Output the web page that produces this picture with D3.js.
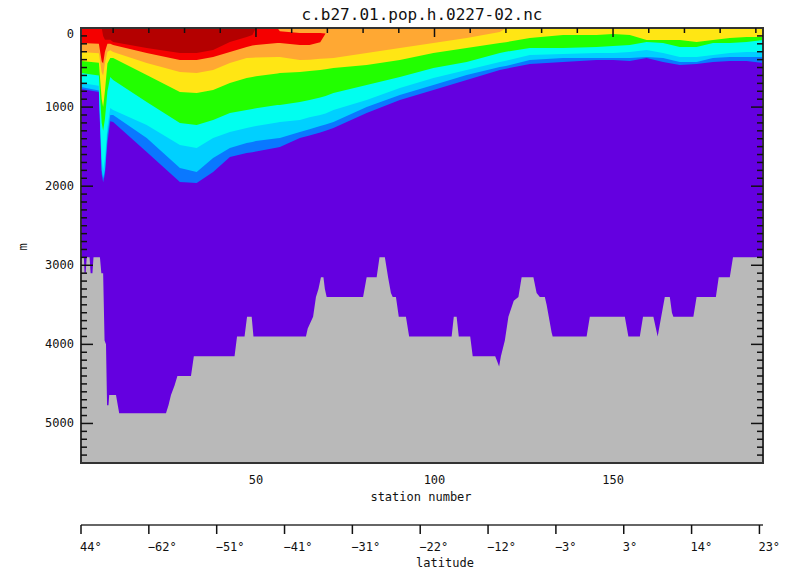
<!DOCTYPE html>
<html lang="en">
<head>
<meta charset="UTF-8">
<title>c.b27.01.pop.h.0227-02.nc</title>
<script src="https://d3js.org/d3.v7.min.js"></script>
<style>
  body { margin: 0; background: #fff; }
  svg { display: block; }
  text { font-family: 'DejaVu Sans Mono', 'Liberation Mono', monospace; fill: #111; }
</style>
</head>
<body>
<div id="chart"></div>
<script>
// stations where the band boundaries were read (depths in m)
const stations = [1, 6, 6.8, 7.2, 7.7, 8.4, 9.2, 10, 19.4, 28.7, 33.4, 38, 42.7, 47.4, 49, 50, 56, 56.7, 62.3, 65, 68, 69.5, 71.7, 81, 90.3, 99.7, 109, 118.3, 120, 126.7, 136, 145.4, 150, 154.7, 159.4, 164, 168.7, 173.4, 178, 182.7, 187.4, 192];

const darkRedBottom = [0, 0, 0, 100, 150, 150, 150, 177, 253, 316, 316, 278, 177, 114, 90, 0, 0, 0, 0, 0, 0, 0, 0, 0, 0, 0, 0, 0, 0, 0, 0, 0, 0, 0, 0, 0, 0, 0, 0, 0, 0, 0];
const redTop = [0, 0, 0, 0, 0, 0, 0, 0, 0, 0, 0, 0, 0, 0, 0, 0, 0, 40, 63, 63, 63, 70, 0, 0, 0, 0, 0, 0, 0, 0, 0, 0, 0, 0, 0, 0, 0, 0, 0, 0, 0, 0];
const redBottom = [190, 200, 420, 450, 300, 200, 200, 215, 316, 404, 404, 367, 303, 240, 220, 215, 190, 190, 215, 215, 180, 70, 0, 0, 0, 0, 0, 0, 0, 0, 0, 0, 0, 0, 0, 0, 0, 0, 0, 0, 0, 0];
const orangeBottom = [303, 320, 560, 600, 450, 300, 280, 303, 442, 556, 569, 531, 442, 379, 375, 372, 367, 367, 404, 400, 390, 385, 379, 316, 253, 190, 126, 50, 0, 0, 0, 0, 0, 0, 0, 0, 0, 0, 0, 0, 0, 0];
const yellowBottom = [417, 440, 900, 1000, 800, 450, 380, 379, 594, 809, 822, 784, 695, 632, 620, 610, 575, 569, 556, 545, 530, 520, 506, 468, 404, 316, 253, 190, 180, 126, 88, 88, 76, 88, 152, 152, 152, 177, 152, 126, 114, 114];
const greenBottom = [569, 600, 1200, 1300, 1150, 800, 620, 657, 935, 1201, 1226, 1163, 1074, 1036, 1025, 1015, 975, 973, 935, 910, 880, 860, 822, 720, 619, 506, 430, 316, 300, 253, 253, 240, 228, 215, 177, 190, 240, 240, 190, 190, 177, 152];
const cyanBottom = [695, 730, 1650, 1800, 1650, 1250, 1010, 1036, 1226, 1479, 1517, 1390, 1315, 1264, 1250, 1240, 1195, 1188, 1163, 1130, 1100, 1080, 1036, 910, 758, 632, 531, 430, 415, 341, 329, 316, 316, 303, 278, 316, 367, 367, 341, 316, 303, 303];
const lightBlueBottom = [746, 790, 1800, 1900, 1800, 1350, 1100, 1100, 1390, 1770, 1820, 1643, 1517, 1454, 1440, 1430, 1395, 1390, 1315, 1280, 1240, 1220, 1188, 999, 847, 720, 594, 493, 480, 404, 379, 379, 379, 379, 367, 379, 430, 430, 379, 367, 367, 367];
const blueBottom = [771, 810, 1850, 1950, 1850, 1450, 1180, 1188, 1567, 1947, 1959, 1820, 1631, 1580, 1570, 1560, 1510, 1504, 1390, 1360, 1320, 1300, 1264, 1074, 910, 784, 657, 531, 515, 455, 430, 404, 404, 417, 379, 430, 468, 455, 430, 417, 417, 442];

// sea floor
const floorStation = [1, 1.8, 2.0, 2.3, 2.6, 3.4, 3.7, 4.2, 4.5, 6.3, 6.7, 7.2, 7.6, 8.0, 8.3, 8.7, 8.9, 10.8, 11.3, 11.7, 24.8, 25.5, 26.2, 27.2, 28, 31.8, 32.6, 44, 44.7, 46.8, 47.5, 48.8, 49.3, 64, 64.5, 66, 66.8, 67.5, 68.2, 68.9, 69.3, 69.8, 80, 81, 83.8, 84.6, 86.1, 87, 87.8, 88.3, 89.2, 90, 92, 92.9, 104.8, 105.4, 106.2, 106.8, 110, 110.7, 117, 117.6, 118.1, 118.6, 119.7, 120.7, 122.2, 123.5, 124.4, 127.7, 128.6, 129.5, 130.9, 131.4, 132.8, 133.1, 142.6, 143.5, 153.3, 154.3, 157.5, 158.4, 161.3, 162.5, 163.1, 164.5, 165.9, 166.5, 166.9, 172.5, 173.4, 178.8, 179.6, 182.7, 183.6, 192];
const floorDepth = [2900, 2900, 3100, 3100, 2900, 2900, 3100, 3100, 2900, 2900, 3100, 3100, 3950, 4000, 4770, 4770, 4640, 4640, 4770, 4870, 4870, 4770, 4640, 4520, 4400, 4400, 4150, 4150, 3900, 3900, 3650, 3650, 3900, 3900, 3800, 3650, 3400, 3300, 3150, 3150, 3300, 3400, 3400, 3150, 3150, 2900, 2900, 3150, 3350, 3400, 3400, 3650, 3650, 3900, 3900, 3650, 3650, 3900, 3900, 4150, 4150, 4220, 4280, 4150, 3950, 3650, 3450, 3400, 3150, 3150, 3350, 3400, 3400, 3500, 3850, 3900, 3900, 3650, 3650, 3900, 3900, 3650, 3650, 3900, 3750, 3400, 3400, 3600, 3650, 3650, 3400, 3400, 3150, 3150, 2900, 2900];

const stationTicks = [50, 100, 150];
const depthTicks = [0, 1000, 2000, 3000, 4000, 5000];
const latTickStations = [1, 20, 39, 58, 77, 96, 115, 134, 153, 172, 191];
const latLabels = ["44°", "−62°", "−51°", "−41°", "−31°", "−22°", "−12°", "−3°", "3°", "14°", "23°"];

const bands = [
  { name: "blue", bottom: blueBottom, color: "#0a78ff" },
  { name: "lightblue", bottom: lightBlueBottom, color: "#00d0ff" },
  { name: "cyan", bottom: cyanBottom, color: "#00fff0" },
  { name: "green", bottom: greenBottom, color: "#22ff00" },
  { name: "yellow", bottom: yellowBottom, color: "#ffe614" },
  { name: "orange", bottom: orangeBottom, color: "#ffa833" },
  { name: "red", bottom: redBottom, top: redTop, color: "#f50000" },
  { name: "darkred", bottom: darkRedBottom, color: "#b40000" }
];

const width = 798, height = 573;
const pLeft = 81, pRight = 763, pTop = 28, pBottom = 463;

const svg = d3.select("#chart").append("svg")
  .attr("width", width)
  .attr("height", height);

const x = d3.scaleLinear().domain([1, 192]).range([pLeft, pRight]);
const y = d3.scaleLinear().domain([0, 5500]).range([pTop, pBottom]);

svg.append("defs").append("clipPath").attr("id", "plot")
  .append("rect").attr("x", pLeft).attr("y", pTop)
  .attr("width", pRight - pLeft).attr("height", pBottom - pTop);

const plot = svg.append("g").attr("clip-path", "url(#plot)");

// deep water
plot.append("rect")
  .attr("x", pLeft).attr("y", pTop)
  .attr("width", pRight - pLeft).attr("height", pBottom - pTop)
  .attr("fill", "#6400e0");

// colour bands, deepest first
bands.forEach(b => {
  const area = d3.area()
    .x((d, i) => x(stations[i]))
    .y0((d, i) => y(b.top ? b.top[i] : 0))
    .y1(d => y(d));
  plot.append("path")
    .datum(b.bottom)
    .attr("fill", b.color)
    .attr("d", area);
});

// topography
const floor = d3.area()
  .x((d, i) => x(floorStation[i]))
  .y0(y(5500))
  .y1(d => y(d));
plot.append("path")
  .datum(floorDepth)
  .attr("fill", "#b9b9b9")
  .attr("d", floor);

// frame
svg.append("rect")
  .attr("x", pLeft).attr("y", pTop)
  .attr("width", pRight - pLeft).attr("height", pBottom - pTop)
  .attr("fill", "none").attr("stroke", "#333").attr("stroke-width", 2);

// top ticks (every 10 stations, longer at labelled ones)
svg.append("g").selectAll("line")
  .data(d3.range(10, 191, 10))
  .join("line")
  .attr("x1", d => x(d)).attr("x2", d => x(d))
  .attr("y1", pTop).attr("y2", d => pTop + (d % 50 === 0 ? 9 : 5))
  .attr("stroke", "#111").attr("stroke-width", 1.5);

// depth ticks on both sides
const minor = d3.range(100, 5500, 100);
["l", "r"].forEach(side => {
  const x0 = side === "l" ? pLeft : pRight;
  const dir = side === "l" ? 1 : -1;
  svg.append("g").selectAll("line")
    .data(minor)
    .join("line")
    .attr("x1", x0)
    .attr("x2", d => x0 + dir * (d % 1000 === 0 ? 12 : 6))
    .attr("y1", d => y(d)).attr("y2", d => y(d))
    .attr("stroke", "#111").attr("stroke-width", 1.5);
});

// depth labels
svg.append("g").selectAll("text")
  .data(depthTicks)
  .join("text")
  .attr("x", 74)
  .attr("y", d => Math.max(y(d), 34) + 4)
  .attr("text-anchor", "end")
  .attr("font-size", 12)
  .text(d => d);

svg.append("text")
  .attr("transform", "translate(27,247) rotate(-90)")
  .attr("text-anchor", "middle")
  .attr("font-size", 12)
  .text("m");

// station labels
svg.append("g").selectAll("text")
  .data(stationTicks)
  .join("text")
  .attr("x", d => x(d))
  .attr("y", 484)
  .attr("text-anchor", "middle")
  .attr("font-size", 12)
  .text(d => d);

svg.append("text")
  .attr("x", 421).attr("y", 501)
  .attr("text-anchor", "middle")
  .attr("font-size", 12)
  .text("station number");

// latitude axis
const latY = 525;
svg.append("line")
  .attr("x1", pLeft).attr("x2", pRight)
  .attr("y1", latY).attr("y2", latY)
  .attr("stroke", "#333").attr("stroke-width", 1.5);

svg.append("g").selectAll("line")
  .data(latTickStations)
  .join("line")
  .attr("x1", d => x(d)).attr("x2", d => x(d))
  .attr("y1", latY).attr("y2", latY + 9)
  .attr("stroke", "#111").attr("stroke-width", 1.5);

svg.append("g").selectAll("text")
  .data(latTickStations)
  .join("text")
  .attr("x", d => x(d) - 1)
  .attr("y", 551)
  .attr("font-size", 12)
  .text((d, i) => latLabels[i]);

svg.append("text")
  .attr("x", 445).attr("y", 567)
  .attr("text-anchor", "middle")
  .attr("font-size", 12)
  .text("latitude");

// title
svg.append("text")
  .attr("x", 422).attr("y", 20)
  .attr("text-anchor", "middle")
  .attr("font-size", 16)
  .text("c.b27.01.pop.h.0227-02.nc");
</script>
</body>
</html>
